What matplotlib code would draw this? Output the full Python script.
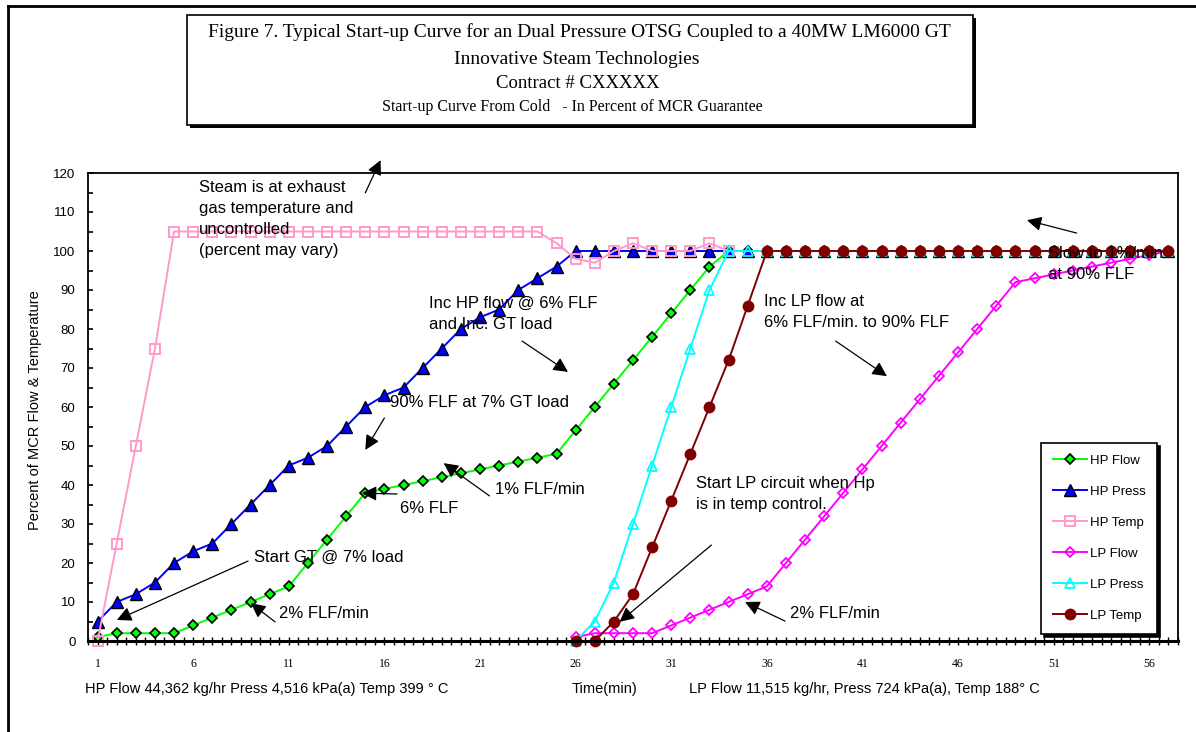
import matplotlib
matplotlib.use("Agg")
import matplotlib.pyplot as plt
from matplotlib.patches import Rectangle
from matplotlib.lines import Line2D
import numpy as np

# minutes (category axis 1..57)
hp_flow_x = list(range(1, 58))
hp_flow = [1, 2, 2, 2, 2, 4, 6, 8, 10, 12, 14, 20, 26, 32, 38, 39, 40, 41, 42, 43,
           44, 45, 46, 47, 48, 54, 60, 66, 72, 78, 84, 90, 96] + [100] * 24

hp_press_x = list(range(1, 58))
hp_press = [5, 10, 12, 15, 20, 23, 25, 30, 35, 40, 45, 47, 50, 55, 60, 63, 65, 70, 75, 80,
            83, 85, 90, 93, 96] + [100] * 32

hp_temp_x = list(range(1, 35))
hp_temp = [0, 25, 50, 75] + [105] * 20 + [102, 98, 97, 100, 102, 100, 100, 100, 102, 100]

lp_flow_x = list(range(26, 58))
lp_flow = [1, 2, 2, 2, 2, 4, 6, 8, 10, 12, 14, 20, 26, 32, 38, 44, 50, 56, 62, 68,
           74, 80, 86, 92, 93, 94, 95, 96, 97, 98, 99, 100]

lp_press_x = list(range(26, 58))
lp_press = [0, 5, 15, 30, 45, 60, 75, 90] + [100] * 24

lp_temp_x = list(range(26, 58))
lp_temp = [0, 0, 5, 12, 24, 36, 48, 60, 72, 86] + [100] * 22

xtick_vals = list(range(1, 58, 5))

W, H = 1196, 732
def fx(x):
    return x / W
def fy(y):
    return 1 - y / H

sans = "Liberation Sans"
serif = "Liberation Serif"
plt.rcParams['font.family'] = sans

fig = plt.figure(figsize=(W / 100, H / 100), dpi=100)
ax = fig.add_axes([fx(88), fy(641), (1178 - 88) / W, (641 - 173) / H])

ax.plot(hp_flow_x, hp_flow, color='#00FF00', lw=1.4, marker='D', ms=5.5,
        mfc='#00FF00', mec='black', mew=1.2, label='HP Flow', clip_on=False)
ax.plot(hp_press_x, hp_press, color='#0000FF', lw=1.4, marker='^', ms=8,
        mfc='#0000FF', mec='black', mew=1.0, label='HP Press', clip_on=False)
ax.plot(hp_temp_x, hp_temp, color='#FF99CC', lw=1.4, marker='s', ms=7,
        mfc='none', mec='#FF99CC', mew=1.4, label='HP Temp', clip_on=False)
ax.plot(lp_flow_x, lp_flow, color='#FF00FF', lw=1.4, marker='D', ms=5,
        mfc='none', mec='#FF00FF', mew=1.3, label='LP Flow', clip_on=False)
ax.plot(lp_press_x, lp_press, color='#00FFFF', lw=1.4, marker='^', ms=7.5,
        mfc='none', mec='#00FFFF', mew=1.3, label='LP Press', clip_on=False)
ax.plot(lp_temp_x, lp_temp, color='#800000', lw=1.4, marker='o', ms=7.5,
        mfc='#800000', mec='#800000', label='LP Temp', clip_on=False)

ax.set_xlim(0.5, 57.5)
ax.set_ylim(0, 120)
ax.set_yticks(range(0, 121, 10))
ax.set_yticks(range(0, 121, 5), minor=True)
ax.set_xticks(xtick_vals)
ax.set_xticklabels([str(v) for v in xtick_vals], fontfamily=serif, fontsize=8.5)
ax.set_xticks(np.arange(0.5, 57.6, 0.5), minor=True)
ax.tick_params(axis='y', which='both', direction='in', length=3.5, width=1.2,
               labelsize=9.5, pad=9)
ax.tick_params(axis='x', which='both', direction='inout', length=6, width=1.0,
               pad=9)
for s in ['top', 'right', 'left']:
    ax.spines[s].set_linewidth(1.3)
ax.spines['bottom'].set_linewidth(2.2)

arrow = dict(arrowstyle='-|>', mutation_scale=22, lw=0.9, color='black',
             shrinkA=0, shrinkB=0)
afont = dict(fontsize=12, linespacing=1.5)

def note(text, xy, xytext_line, textpos, va='center'):
    ax.annotate('', xy=xy, xytext=xytext_line, arrowprops=arrow,
                annotation_clip=False)
    ax.text(textpos[0], textpos[1], text, ha='left', va=va, **afont)

note("Steam is at exhaust\ngas temperature and\nuncontrolled\n(percent may vary)",
     (15.8, 123.3), (15.0, 114.9), (6.3, 118.2), va='top')
note("Inc HP flow @ 6% FLF\nand Inc. GT load", (25.6, 69.0), (23.2, 76.9),
     (18.35, 88.5), va='top')
note("90% FLF at 7% GT load", (15.0, 49.0), (16.0, 57.2), (16.3, 61.1))
note("6% FLF", (14.83, 37.9), (16.66, 37.7), (16.8, 34.0))
note("1% FLF/min", (19.1, 45.6), (21.5, 37.2), (21.8, 38.9))
note("Start GT @ 7% load", (2.01, 5.4), (8.87, 20.5), (9.18, 21.4))
note("2% FLF/min", (9.02, 9.7), (10.28, 4.9), (10.5, 7.1))
note("Start LP circuit when Hp\nis in temp control.", (28.3, 4.9), (33.1, 24.6),
     (32.3, 42.3), va='top')
note("2% FLF/min", (34.86, 10.0), (36.95, 5.1), (37.2, 7.1))
note("Inc LP flow at\n6% FLF/min. to 90% FLF", (42.28, 67.9), (39.6, 76.9),
     (35.85, 89.0), va='top')
note("Slow to 1%/min\nat 90% FLF", (49.6, 107.9), (52.2, 104.6), (50.7, 101.3), va='top')

leg = ax.legend(loc='upper left', bbox_to_anchor=(fx(1041), fy(443)),
                bbox_transform=fig.transFigure, fontsize=9.5, frameon=True,
                fancybox=False, edgecolor='black', labelspacing=1.42,
                handlelength=2.6, handletextpad=0.2, borderpad=0.9,
                borderaxespad=0, shadow={'color': 'black', 'alpha': 1})
leg.get_frame().set_linewidth(1.2)

# axis texts
fig.text(fx(35), fy(410), "Percent of MCR Flow & Temperature", rotation=90,
         ha='center', va='center', fontsize=10.5)
fig.text(fx(85), fy(689), "HP Flow 44,362 kg/hr Press 4,516 kPa(a) Temp 399 \u00b0 C",
         ha='left', va='center', fontsize=10.5)
fig.text(fx(604), fy(689), "Time(min)", ha='center', va='center', fontsize=10.5)
fig.text(fx(689), fy(689), "LP Flow 11,515 kg/hr, Press 724 kPa(a), Temp 188\u00b0 C",
         ha='left', va='center', fontsize=10.5)

# title box with shadow
fig.patches.append(Rectangle((fx(190), fy(128)), (973 - 187) / W, (125 - 15) / H,
                             transform=fig.transFigure, facecolor='black',
                             edgecolor='none', zorder=1))
fig.patches.append(Rectangle((fx(187), fy(125)), (973 - 187) / W, (125 - 15) / H,
                             transform=fig.transFigure, facecolor='white',
                             edgecolor='black', lw=1.2, zorder=2))
fig.text(fx(579), fy(32), "Figure 7. Typical Start-up Curve for an Dual Pressure OTSG "
         "Coupled to a 40MW LM6000 GT", ha='center', va='center',
         fontfamily=serif, fontsize=14, zorder=3)
fig.text(fx(577), fy(59), "Innovative Steam Technologies", ha='center', va='center',
         fontfamily=serif, fontsize=14, zorder=3)
fig.text(fx(578), fy(84), "Contract # CXXXXX", ha='center', va='center',
         fontfamily=serif, fontsize=13.5, zorder=3)
fig.text(fx(572), fy(107), "Start-up Curve From Cold   - In Percent of MCR Guarantee",
         ha='center', va='center', fontfamily=serif, fontsize=11.5, zorder=3)

# outer frame (left and top visible)
fig.add_artist(Line2D([fx(8), fx(8)], [fy(6), 0], transform=fig.transFigure,
                      color='black', lw=2))
fig.add_artist(Line2D([fx(8), 1], [fy(6), fy(6)], transform=fig.transFigure,
                      color='black', lw=2))

fig.savefig("out.png", dpi=100)
